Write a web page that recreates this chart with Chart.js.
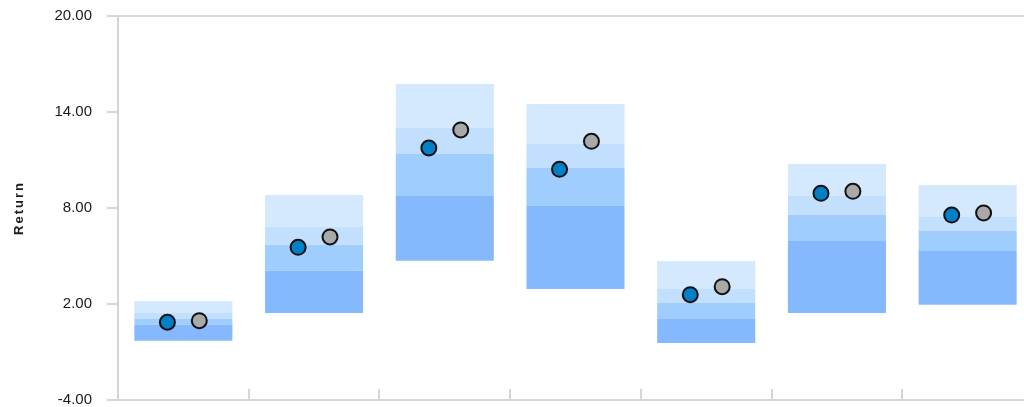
<!DOCTYPE html>
<html>
<head>
<meta charset="utf-8">
<script src="https://cdn.jsdelivr.net/npm/chart.js@4.4.1/dist/chart.umd.min.js"></script>
<style>
  html, body { margin: 0; padding: 0; background: #fff; overflow: hidden; }
  canvas { display: block; }
</style>
</head>
<body>
<canvas id="chart" width="1034" height="407" style="width:1034px;height:407px"></canvas>
<script>
const categories = ['Fund A', 'Fund B', 'Fund C', 'Fund D', 'Fund E', 'Fund F', 'Fund G'];

// range bands per category: 5th, 25th, 50th, 75th, 95th percentile
const p05 = [-0.29, 1.44, 4.71, 2.94, -0.44, 1.44, 1.96];
const p25 = [0.71, 4.08, 8.75, 8.13, 1.06, 5.94, 5.31];
const p50 = [1.06, 5.71, 11.38, 10.5, 2.06, 7.56, 6.56];
const p75 = [1.44, 6.83, 13.0, 12.0, 2.94, 8.75, 7.44];
const p95 = [2.19, 8.81, 15.75, 14.5, 4.69, 10.75, 9.44];

const portfolioReturn = [0.86, 5.54, 11.75, 10.42, 2.58, 8.92, 7.56];
const benchmarkReturn = [0.96, 6.19, 12.88, 12.17, 3.08, 9.04, 7.69];

const yTicks = [-4, 2, 8, 14, 20];

const bandColors = ['#86b8fe', '#9ecdfe', '#c2e0fe', '#d4e8fe'];
const bounds = [p05, p25, p50, p75, p95];
const axisGrey = '#d6d6d6';

const bandSets = bandColors.map((color, k) => ({
  type: 'bar',
  data: categories.map((_, i) => [bounds[k][i], bounds[k + 1][i]]),
  backgroundColor: color,
  borderWidth: 0,
  grouped: false,
  barPercentage: 0.75,
  categoryPercentage: 1,
  order: 1,
}));

function pointSet(values, color, shift) {
  return {
    type: 'scatter',
    xAxisID: 'x2',
    data: values.map((v, i) => ({ x: i + shift, y: v })),
    backgroundColor: color,
    borderColor: '#111',
    borderWidth: 2,
    pointRadius: 7.5,
    pointHoverRadius: 7.5,
    order: 0,
  };
}

// frame top, inner x ticks, and the spaced-out axis title
const framePlugin = {
  id: 'frame',
  afterDraw(chart) {
    const { ctx, chartArea: a, scales } = chart;
    ctx.save();
    ctx.strokeStyle = axisGrey;
    ctx.lineWidth = 2;
    ctx.beginPath();
    ctx.moveTo(a.left, a.top);
    ctx.lineTo(a.right, a.top);
    for (let i = 1; i < categories.length; i++) {
      const x = Math.round(scales.x2.getPixelForValue(i - 0.5));
      ctx.moveTo(x, a.bottom);
      ctx.lineTo(x, a.bottom - 11);
    }
    ctx.stroke();

    ctx.translate(19, (a.top + a.bottom) / 2);
    ctx.rotate(-Math.PI / 2);
    ctx.font = 'bold 13px "Liberation Sans", Arial, sans-serif';
    ctx.letterSpacing = '2px';
    ctx.fillStyle = '#1a1a1a';
    ctx.textAlign = 'center';
    ctx.textBaseline = 'middle';
    ctx.fillText('Return', 0, 0);
    ctx.restore();
  },
};

new Chart(document.getElementById('chart'), {
  type: 'bar',
  data: {
    labels: categories,
    datasets: [
      ...bandSets,
      pointSet(portfolioReturn, '#0080c6', -0.122),
      pointSet(benchmarkReturn, '#a9a9a9', 0.122),
    ],
  },
  options: {
    responsive: false,
    animation: false,
    layout: { autoPadding: false, padding: { top: 16, left: 0, right: 1, bottom: 0 } },
    plugins: {
      legend: { display: false },
      tooltip: { enabled: false },
    },
    scales: {
      x: {
        type: 'category',
        offset: true,
        grid: { display: false },
        ticks: { display: false },
        border: { color: axisGrey, width: 2 },
        afterFit: (s) => { s.height = 7; s.paddingLeft = 0; s.paddingRight = 0; },
      },
      x2: {
        type: 'linear',
        display: false,
        offset: false,
        min: -0.5,
        max: 6.5,
      },
      y: {
        min: -4,
        max: 20,
        stacked: false,
        afterBuildTicks: (s) => { s.ticks = yTicks.map(v => ({ value: v })); },
        afterFit: (s) => { s.width = 118; s.paddingTop = 0; s.paddingBottom = 0; },
        grid: { drawOnChartArea: false, color: axisGrey, lineWidth: 2, tickLength: 11 },
        border: { color: axisGrey, width: 2 },
        ticks: {
          color: '#1a1a1a',
          padding: 15,
          font: { family: '"Liberation Sans", Arial, sans-serif', size: 15 },
          callback: (v) => Number(v).toFixed(2),
        },
      },
    },
  },
  plugins: [framePlugin],
});
</script>
</body>
</html>
